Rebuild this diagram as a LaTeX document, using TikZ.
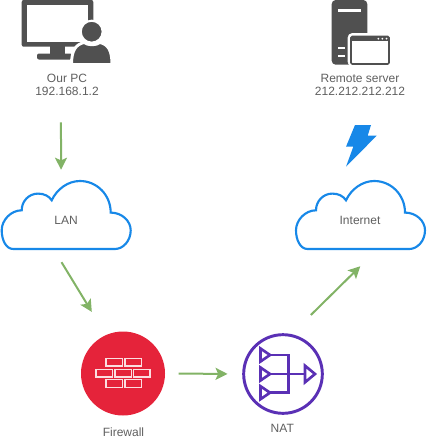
\documentclass[tikz,border=0pt]{standalone}
\usepackage{fontspec}
\setmainfont{Liberation Sans}
\usetikzlibrary{arrows.meta,shapes.geometric}
\definecolor{flowgreen}{HTML}{82B366}
\definecolor{iconblue}{HTML}{1788E8}
\definecolor{icongray}{HTML}{505050}
\definecolor{fwred}{HTML}{E5233A}
\definecolor{natpurple}{HTML}{5A30B5}
\definecolor{labelgray}{HTML}{5F5F5F}
\tikzset{
  flow/.style={draw=flowgreen, line width=1.5pt, -{Stealth[length=9pt,width=9pt,inset=2pt]}},
  iconlabel/.style={font=\fontsize{9}{10.2}\selectfont, text=labelgray, align=center, inner sep=0pt},
  cloudbox/.style={iconlabel, minimum width=99pt, minimum height=60pt},
  brick/.style={draw=white!85!fwred, line width=1.1pt},
  natline/.style={draw=natpurple, line width=2pt},
  cloudicon/.pic={
    \draw[draw=iconblue, fill=white, line width=1.6pt]
      (-52.7,34) .. controls (-60,34) and (-64.3,25) .. (-64.3,15.3)
      .. controls (-64.3,5) and (-55,-4.7) .. (-44.3,-4.7)
      .. controls (-44.3,-14) and (-37,-21.4) .. (-28,-21.4)
      .. controls (-22,-21.4) and (-17,-19) .. (-14.3,-14.7)
      .. controls (-9,-26) and (2,-34) .. (14,-34)
      .. controls (31,-34) and (44.7,-20) .. (44.7,-2.4)
      .. controls (56,-2.4) and (64.7,6) .. (64.7,15.3)
      .. controls (64.7,26) and (57,34) .. (49,34) -- cycle;
  }
}

\begin{document}
\begin{tikzpicture}[x=0.75pt,y=-0.75pt]
\useasboundingbox (0,0) rectangle (426,439);

% our pc
\fill[icongray, rounded corners=1.5pt] (21.7,0) rectangle (93.3,46.7);
\fill[white] (26.7,5) rectangle (88,41.7);
\fill[icongray] (50,46) rectangle (65,55);
\fill[icongray, rounded corners=1.5pt] (37,53.5) rectangle (72,59.5);
\filldraw[icongray, draw=white, line width=2.2pt] (71.5,64.5) .. controls (71.5,50) and (76,44.5) .. (84,42.5)
  .. controls (88,45.5) and (96,45.5) .. (100,42.5) .. controls (108,44.5) and (112,50) .. (112,64.5) -- cycle;
\filldraw[icongray, draw=white, line width=1.6pt] (91.7,31.7) circle (11);
\fill[white] (68,64) rectangle (115,68);
\node[iconlabel, minimum width=52.5pt, minimum height=21pt] (pc) at (67,85) {Our PC\\192.168.1.2};

% remote server
\fill[icongray, rounded corners=3pt] (331.7,0) rectangle (367.3,64.7);
\fill[white] (338,9) rectangle (360.7,11.7);
\fill[white] (338.3,46.7) rectangle (345,49);
\fill[white] (338.3,55) rectangle (345,57);
\filldraw[white, rounded corners=3pt] (348,33.5) rectangle (391,66);
\filldraw[fill=white, draw=icongray, line width=1.2pt, rounded corners=1pt] (351,36.5) rectangle (389,64);
\fill[icongray] (351,36.5) rectangle (389,41);
\foreach \dotx in {378.3,382.3,386.5} {
  \fill[white] (\dotx,38.7) circle (1);
}
\node[iconlabel, minimum width=70pt, minimum height=21pt] (server) at (360,85) {Remote server\\212.212.212.212};

% lightning
\fill[iconblue] (355,125) -- (371,125) -- (367.7,135.7) -- (376.7,135.7) -- (346,166.7)
  -- (353.3,146.7) -- (346,146.7) -- cycle;

% clouds
\pic at (66,215) {cloudicon};
\pic at (360.3,215) {cloudicon};
\node[cloudbox] (lan) at (66,220) {LAN};
\node[cloudbox] (internet) at (360,220) {Internet};

% firewall
\node[circle, fill=fwred, minimum size=63pt, inner sep=0pt] (firewall) at (123,373.5) {};
\foreach \brickx in {106,125} {
  \draw[brick] (\brickx,358.3) rectangle +(16.7,7.7);
  \draw[brick] (\brickx,379.6) rectangle +(16.7,7.7);
}
\foreach \brickx in {96,115,133.3} {
  \draw[brick] (\brickx,369.3) rectangle +(16.7,7.7);
}
\node[iconlabel] (firewalllabel) at (123.5,432.7) {Firewall};

% nat
\node[circle, draw=natpurple, line width=2.2pt, minimum size=59pt, inner sep=0pt] (nat) at (283,374) {};
\foreach \naty in {355,374,392.7} {
  \draw[natline] (260.5,\naty-6.5) -- (270,\naty) -- (260.5,\naty+6.5) -- cycle;
}
\draw[natline] (270,355) -- (288.3,355) -- (288.3,392.7) -- (270,392.7);
\draw[natline] (270,374) -- (305,374);
\draw[natline] (305,365.7) -- (315,374) -- (305,382.3) -- cycle;
\node[iconlabel] (natlabel) at (282.3,428.3) {NAT};

% connectors
\draw[flow, shorten <=17.25pt, shorten >=7.5pt] (pc.247) -- (lan.97);
\draw[flow, shorten <=1.7pt, shorten >=20.2pt] (lan.262) -- (firewall.114);
\draw[flow, shorten <=10pt, shorten >=11pt] (firewall.east) -- (nat.west);
\draw[flow, shorten <=20.4pt, shorten >=6.4pt] (nat.78) -- (internet.279.5);
\end{tikzpicture}
\end{document}
